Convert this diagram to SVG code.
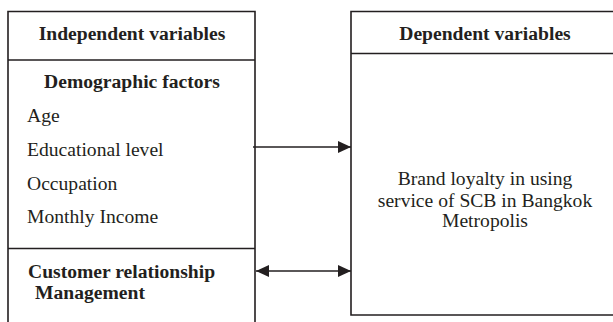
<svg xmlns="http://www.w3.org/2000/svg" width="613" height="322" viewBox="0 0 613 322">
<style>
.ln{stroke:#231f20;stroke-width:1.6;fill:none}
.t{font-family:"Liberation Serif","Times New Roman",serif;font-size:19.6px;fill:#231f20}
.b{font-weight:bold}
.c{text-anchor:middle}
</style>
<defs>
<marker id="ah" markerUnits="userSpaceOnUse" markerWidth="14" markerHeight="13" refX="13" refY="6.5" orient="auto-start-reverse">
<path d="M0,0.5 L13,6.5 L0,12.5 Z" fill="#231f20"/>
</marker>
</defs>
<rect width="613" height="322" fill="#fff"/>
<g id="independent">
<path class="ln" d="M8,322 V11.5 H255 V322 M8,60 H255 M8,248.5 H255"/>
<text class="t b c" x="132" y="40">Independent variables</text>
<text class="t b c" x="132" y="88">Demographic factors</text>
<text class="t" x="27" y="121.7">Age</text>
<text class="t" x="27" y="156">Educational level</text>
<text class="t" x="27" y="190">Occupation</text>
<text class="t" x="27" y="223.3">Monthly Income</text>
<text class="t b" x="28" y="278.3">Customer relationship</text>
<text class="t b" x="35" y="299.3">Management</text>
</g>
<g id="dependent">
<path class="ln" d="M351,11.5 H620 V315 H351 Z M351,53.5 H620"/>
<text class="t b c" x="485" y="40">Dependent variables</text>
<text class="t c" x="485" y="185">Brand loyalty in using</text>
<text class="t c" x="485" y="206.7">service of SCB in Bangkok</text>
<text class="t c" x="485" y="226.7">Metropolis</text>
</g>
<g id="connectors">
<line class="ln" x1="253" y1="147" x2="351" y2="147" marker-end="url(#ah)"/>
<line class="ln" x1="256" y1="271" x2="351" y2="271" marker-start="url(#ah)" marker-end="url(#ah)"/>
</g>
</svg>
